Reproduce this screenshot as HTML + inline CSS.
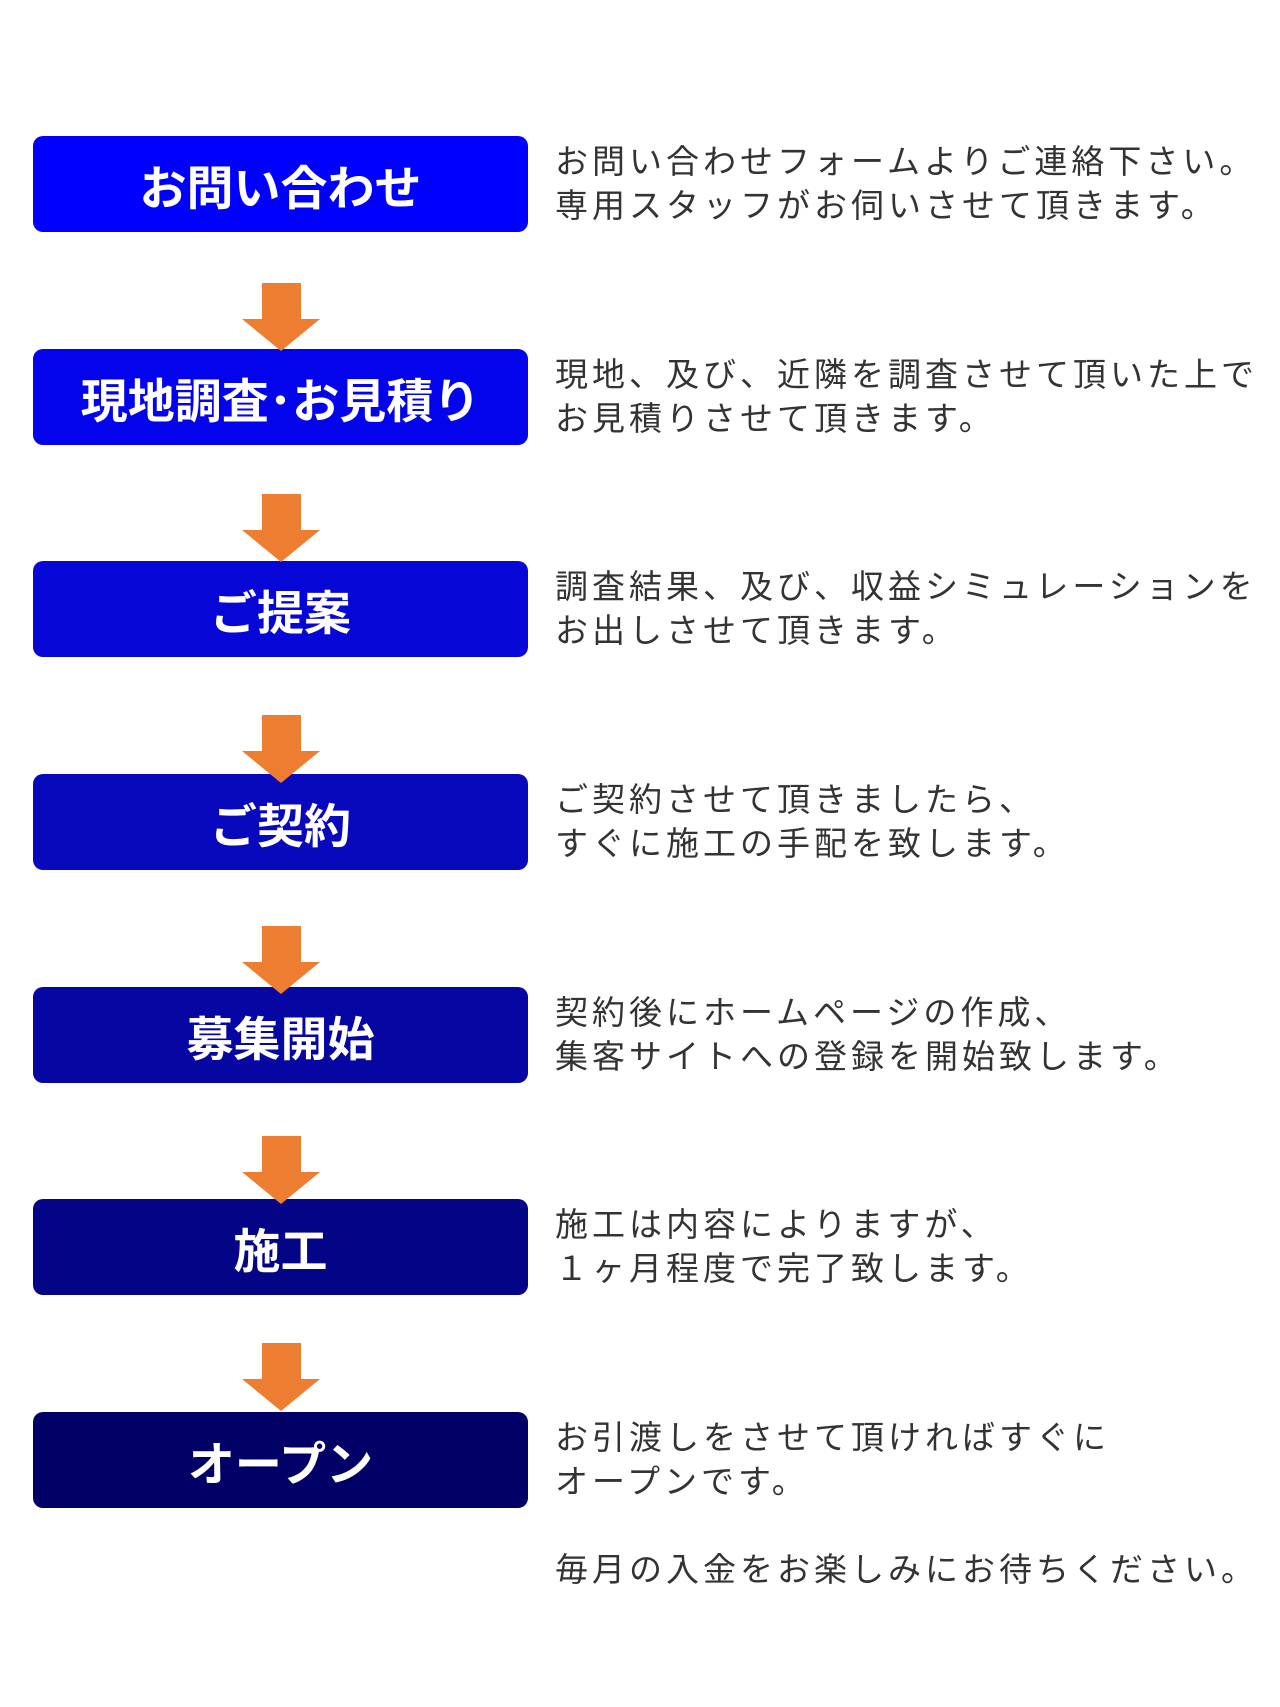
<!DOCTYPE html>
<html><head><meta charset="utf-8"><style>
body{margin:0;width:1280px;height:1707px;background:#fff;position:relative;overflow:hidden;font-family:"Liberation Sans","Noto Sans CJK JP",sans-serif}
.b{position:absolute;left:33px;width:495px;height:96px;border-radius:10px;color:#fff;font-weight:bold;font-size:47px;display:flex;align-items:center;justify-content:center}
.t{position:absolute;left:555px;font-size:33px;line-height:44px;letter-spacing:4px;color:#333;white-space:nowrap}
.a{position:absolute;left:242px;width:78px;height:70px}
</style></head><body>
<div class="b" style="top:136px;background:#0000ff">お問い合わせ</div>
<div class="b" style="top:349px;background:#0404ec">現地調査･お見積り</div>
<div class="b" style="top:561px;background:#0606d6">ご提案</div>
<div class="b" style="top:774px;background:#0808bc">ご契約</div>
<div class="b" style="top:987px;background:#0606a2">募集開始</div>
<div class="b" style="top:1199px;background:#040486">施工</div>
<div class="b" style="top:1412px;background:#000066">オープン</div>

<div class="t" style="top:140px">お問い合わせフォームよりご連絡下さい。<br>専用スタッフがお伺いさせて頂きます。</div>
<div class="t" style="top:353px">現地、及び、近隣を調査させて頂いた上で<br>お見積りさせて頂きます。</div>
<div class="t" style="top:565px">調査結果、及び、収益シミュレーションを<br>お出しさせて頂きます。</div>
<div class="t" style="top:778px">ご契約させて頂きましたら、<br>すぐに施工の手配を致します。</div>
<div class="t" style="top:991px">契約後にホームページの作成、<br>集客サイトへの登録を開始致します。</div>
<div class="t" style="top:1203px">施工は内容によりますが、<br>１ヶ月程度で完了致します。</div>
<div class="t" style="top:1416px">お引渡しをさせて頂ければすぐに<br>オープンです。<br><br>毎月の入金をお楽しみにお待ちください。</div>

<svg class="a" style="top:283px" viewBox="0 0 78 70"><polygon points="20,0 59,0 59,36 78,36 39,68 0,36 20,36" fill="#ed7d31"/></svg>
<svg class="a" style="top:494px" viewBox="0 0 78 70"><polygon points="20,0 59,0 59,36 78,36 39,68 0,36 20,36" fill="#ed7d31"/></svg>
<svg class="a" style="top:715px" viewBox="0 0 78 70"><polygon points="20,0 59,0 59,36 78,36 39,68 0,36 20,36" fill="#ed7d31"/></svg>
<svg class="a" style="top:926px" viewBox="0 0 78 70"><polygon points="20,0 59,0 59,36 78,36 39,68 0,36 20,36" fill="#ed7d31"/></svg>
<svg class="a" style="top:1136px" viewBox="0 0 78 70"><polygon points="20,0 59,0 59,36 78,36 39,68 0,36 20,36" fill="#ed7d31"/></svg>
<svg class="a" style="top:1343px" viewBox="0 0 78 70"><polygon points="20,0 59,0 59,36 78,36 39,68 0,36 20,36" fill="#ed7d31"/></svg>
</body></html>
